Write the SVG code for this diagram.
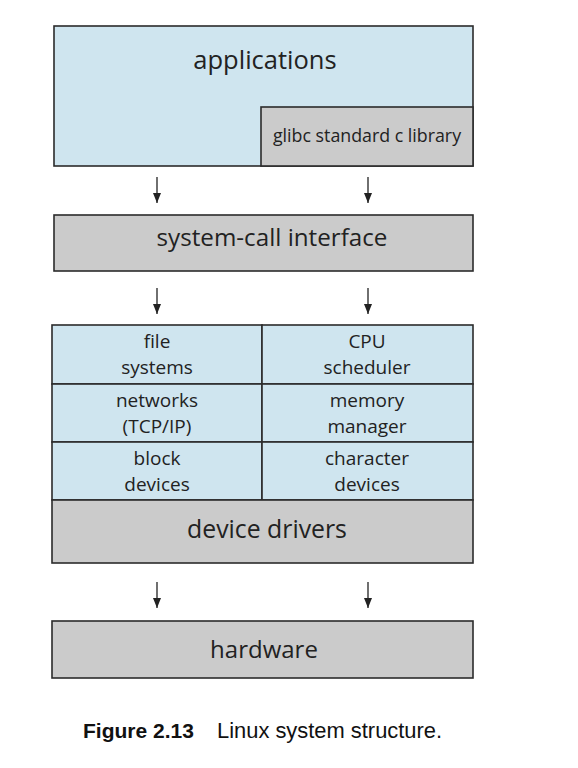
<svg xmlns="http://www.w3.org/2000/svg" width="578" height="768" viewBox="0 0 578 768">
<style>
.blue{fill:#cfe5ef;stroke:#2b2b2b;stroke-width:1.6}
.gray{fill:#cbcbcb;stroke:#2b2b2b;stroke-width:1.6}
.t{font-family:"Open Sans","Noto Sans",sans-serif;fill:#222;text-anchor:middle}
.mid{font-size:19px}
.arr{stroke:#222;stroke-width:1.3;fill:none;marker-end:url(#ah)}
</style>
<defs>
<marker id="ah" viewBox="0 0 10 8" refX="10" refY="4" markerWidth="10" markerHeight="8" markerUnits="userSpaceOnUse" orient="auto"><path d="M0,0 L10,4 L0,8 z" fill="#222"/></marker>
</defs>
<g id="applications">
<rect class="blue" x="54" y="26" width="419" height="140"/>
<text class="t" font-size="25.5" x="265" y="69">applications</text>
</g>
<g id="glibc">
<rect class="gray" x="261" y="107" width="212" height="59"/>
<text class="t" font-size="17.8" x="367" y="142">glibc standard c library</text>
</g>
<g id="syscall">
<rect class="gray" x="54" y="215" width="419" height="56"/>
<text class="t" font-size="24.2" x="272" y="246">system-call interface</text>
</g>
<g id="kernel">
<rect class="blue" x="52" y="325" width="210" height="59"/>
<text class="t mid" x="157" y="348">file</text>
<text class="t mid" x="157" y="374">systems</text>
<rect class="blue" x="262" y="325" width="211" height="59"/>
<text class="t mid" x="367" y="348">CPU</text>
<text class="t mid" x="367" y="374">scheduler</text>
<rect class="blue" x="52" y="384" width="210" height="58"/>
<text class="t mid" x="157" y="407">networks</text>
<text class="t mid" x="157" y="433">(TCP/IP)</text>
<rect class="blue" x="262" y="384" width="211" height="58"/>
<text class="t mid" x="367" y="407">memory</text>
<text class="t mid" x="367" y="433">manager</text>
<rect class="blue" x="52" y="442" width="210" height="58"/>
<text class="t mid" x="157" y="465">block</text>
<text class="t mid" x="157" y="491">devices</text>
<rect class="blue" x="262" y="442" width="211" height="58"/>
<text class="t mid" x="367" y="465">character</text>
<text class="t mid" x="367" y="491">devices</text>
</g>
<g id="drivers">
<rect class="gray" x="52" y="500" width="421" height="63"/>
<text class="t" font-size="24.8" x="267" y="538">device drivers</text>
</g>
<g id="hardware">
<rect class="gray" x="52" y="621" width="421" height="57"/>
<text class="t" font-size="24" x="264" y="658">hardware</text>
</g>
<g id="connectors">
<line class="arr" x1="157" y1="177" x2="157" y2="203"/>
<line class="arr" x1="368" y1="177" x2="368" y2="203"/>
<line class="arr" x1="157" y1="288" x2="157" y2="314"/>
<line class="arr" x1="368" y1="288" x2="368" y2="314"/>
<line class="arr" x1="157" y1="582" x2="157" y2="608"/>
<line class="arr" x1="368" y1="582" x2="368" y2="608"/>
</g>
<g id="caption" font-family="'Liberation Sans',Arial,sans-serif" font-size="21" fill="#111">
<text x="83" y="738"><tspan font-weight="bold">Figure 2.13</tspan><tspan x="217" font-size="21.9">Linux system structure.</tspan></text>
</g>
</svg>
